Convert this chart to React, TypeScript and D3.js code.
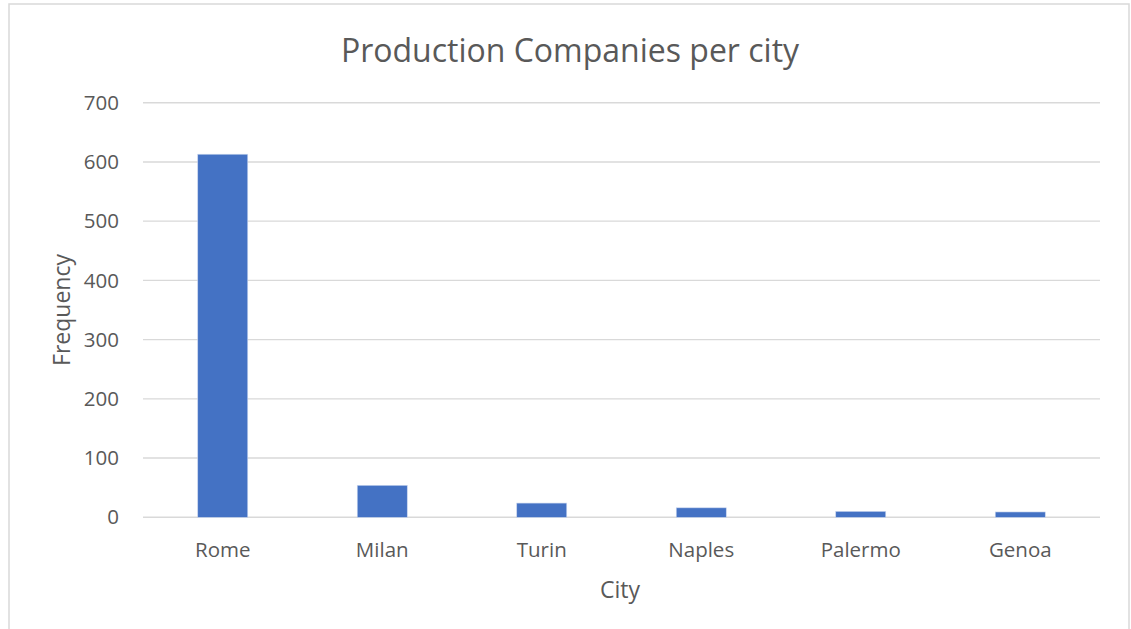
import React from "react";
import * as d3 from "d3";

const cities = ["Rome", "Milan", "Turin", "Naples", "Palermo", "Genoa"];
const counts = [613, 54, 24, 16, 10, 9];
const yTicks = [0, 100, 200, 300, 400, 500, 600, 700];
const title = "Production Companies per city";
const xTitle = "City";
const yTitle = "Frequency";

const W = 1131;
const H = 629;
const FONT = "'Open Sans', 'DejaVu Sans', sans-serif";
const TEXT = "#595959";

export default function App() {
  const x = d3
    .scaleBand<string>()
    .domain(cities)
    .range([143, 1100])
    .paddingInner(0.6865)
    .paddingOuter(0.6865 / 2);
  const y = d3.scaleLinear().domain([0, 700]).range([517.3, 102.7]);

  return (
    <svg
      width={W}
      height={H}
      style={{ position: "absolute", left: 0, top: 0, display: "block", background: "#fff" }}
      fontFamily={FONT}
    >
      <rect x={9} y={4} width={1120} height={700} fill="#fff" stroke="#d9d9d9" strokeWidth={1.5} />
      <text x={570} y={62} textAnchor="middle" fontSize={32} fill={TEXT}>
        {title}
      </text>
      {yTicks.map((t) => (
        <g key={t}>
          <line x1={143} x2={1100} y1={y(t)} y2={y(t)} stroke="#d9d9d9" strokeWidth={1.4} />
          <text x={119} y={y(t)} dy="0.35em" textAnchor="end" fontSize={20.5} fill={TEXT}>
            {t}
          </text>
        </g>
      ))}
      {cities.map((c, i) => (
        <g key={c}>
          <rect
            x={x(c)!}
            y={y(counts[i])}
            width={x.bandwidth()}
            height={y(0) - y(counts[i])}
            fill="#4472c4"
            stroke="#c9d5ee"
            strokeWidth={0.6}
          />
          <text x={x(c)! + x.bandwidth() / 2} y={556.5} textAnchor="middle" fontSize={20.5} fill={TEXT}>
            {c}
          </text>
        </g>
      ))}
      <text x={620} y={598} textAnchor="middle" fontSize={23} fill={TEXT}>
        {xTitle}
      </text>
      <text
        transform={`translate(70, 310) rotate(-90)`}
        textAnchor="middle"
        fontSize={23}
        fill={TEXT}
      >
        {yTitle}
      </text>
    </svg>
  );
}
